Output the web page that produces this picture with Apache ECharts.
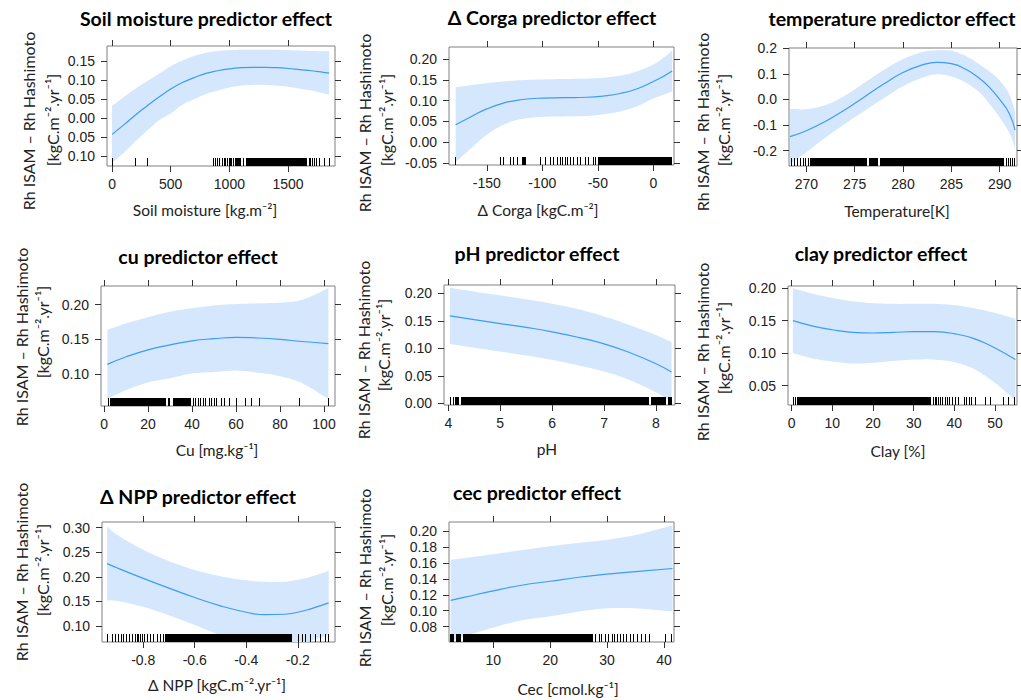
<!DOCTYPE html>
<html><head><meta charset="utf-8">
<script src="https://cdn.jsdelivr.net/npm/echarts@6/dist/echarts.min.js"></script>
<style>html,body{margin:0;padding:0;background:#fff}#c{width:1021px;height:700px}</style>
</head><body><div id="c"></div>
<script>
// ---------- data ----------
const titles = ["Soil moisture predictor effect","Δ Corga predictor effect","temperature predictor effect","cu predictor effect","pH predictor effect","clay predictor effect","Δ NPP predictor effect","cec predictor effect"];
const xNames = ["Soil moisture [kg.m⁻²]","Δ Corga [kgC.m⁻²]","Temperature[K]","Cu [mg.kg⁻¹]","pH","Clay [%]","Δ NPP [kgC.m⁻².yr⁻¹]","Cec [cmol.kg⁻¹]"];
const yName1 = "Rh ISAM – Rh Hashimoto";
const yName2 = "[kgC.m⁻².yr⁻¹]";

const soilX = [0,100,200,300,400,500,600,700,800,900,1000,1100,1200,1300,1400,1500,1600,1700,1800,1850];
const soilFit = [-0.043,-0.018,0.008,0.032,0.055,0.076,0.093,0.106,0.117,0.124,0.129,0.132,0.133,0.133,0.132,0.130,0.127,0.124,0.120,0.118];
const soilUpper = [0.032,0.055,0.077,0.097,0.116,0.136,0.151,0.163,0.171,0.176,0.178,0.179,0.179,0.179,0.179,0.178,0.177,0.176,0.175,0.175];
const soilLower = [-0.118,-0.091,-0.061,-0.033,-0.006,0.012,0.035,0.049,0.063,0.072,0.080,0.085,0.087,0.087,0.085,0.082,0.077,0.072,0.065,0.061];
const soilTicksX = [0,500,1000,1500];
const soilTicksY = [-0.10,-0.05,0,0.05,0.10,0.15];
const soilRugLines = [0,195,300,862,878,895,915,935,950,965,980,1035,1045,1120,1675,1690,1705,1720,1740,1760,1805,1845];
const soilRugSpans = [[1000,1020],[1060,1100],[1140,1660]];

const corgaX = [-178,-165,-150,-135,-120,-100,-80,-60,-45,-30,-15,0,10,17];
const corgaFit = [0.042,0.060,0.080,0.094,0.102,0.106,0.107,0.108,0.111,0.117,0.128,0.146,0.160,0.171];
const corgaUpper = [0.132,0.137,0.142,0.146,0.149,0.151,0.152,0.153,0.155,0.160,0.170,0.187,0.205,0.220];
const corgaLower = [-0.048,-0.017,0.018,0.042,0.055,0.061,0.062,0.063,0.067,0.074,0.086,0.105,0.115,0.122];
const corgaTicksX = [-150,-100,-50,0];
const corgaTicksY = [-0.05,0,0.05,0.10,0.15,0.20];
const corgaRugLines = [-178.5,-138,-135,-129,-126,-123,-102,-97.5,-93,-90,-87,-84,-82.4,-79.4,-78,-75,-72,-69,-66,-61.4,-58.4,-54,-52.4];
const corgaRugSpans = [[-118,-115],[-49.4,16.7]];

const tempX = [268.3,270,272,274,276,278,280,282,283.5,285,286.5,288,289,290,291,291.6];
const tempFit = [-0.145,-0.122,-0.085,-0.040,0.010,0.060,0.105,0.135,0.145,0.140,0.118,0.080,0.045,0.000,-0.055,-0.120];
const tempUpper = [-0.037,-0.038,-0.022,0.015,0.065,0.115,0.158,0.185,0.192,0.190,0.170,0.135,0.108,0.075,0.020,-0.048];
const tempLower = [-0.253,-0.206,-0.148,-0.095,-0.045,0.005,0.052,0.085,0.098,0.090,0.066,0.025,-0.020,-0.070,-0.130,-0.192];
const tempTicksX = [270,275,280,285,290];
const tempTicksY = [-0.2,-0.1,0,0.1,0.2];
const tempRugLines = [268.4,268.7,269.0,269.3,269.6,269.9,270.2,290.7,290.9,291.1,291.3,291.5];
const tempRugSpans = [[270.4,276.3],[276.5,277.4],[277.6,290.5]];

const cuX = [1.5,10,20,30,40,50,60,70,80,90,102];
const cuFit = [0.114,0.125,0.135,0.142,0.148,0.151,0.153,0.152,0.150,0.147,0.144];
const cuUpper = [0.164,0.173,0.182,0.190,0.195,0.199,0.201,0.202,0.203,0.207,0.224];
const cuLower = [0.064,0.077,0.088,0.094,0.101,0.103,0.105,0.102,0.097,0.087,0.064];
const cuTicksX = [0,20,40,60,80,100];
const cuTicksY = [0.10,0.15,0.20];
const cuRugLines = [1.8,40.5,41.5,42.5,43.5,45,46,47.5,48.5,50,51,53,54.5,57,60,64,67,70.5,88.5,102];
const cuRugSpans = [[2.5,28.3],[29.2,30.0],[31.2,39.5]];

const phX = [4.03,4.5,5,5.5,6,6.5,7,7.5,8,8.3];
const phFit = [0.159,0.152,0.145,0.138,0.130,0.120,0.108,0.092,0.072,0.057];
const phUpper = [0.210,0.203,0.196,0.189,0.181,0.171,0.158,0.142,0.124,0.111];
const phLower = [0.108,0.101,0.094,0.087,0.079,0.069,0.058,0.042,0.020,0.003];
const phTicksX = [4,5,6,7,8];
const phTicksY = [0,0.05,0.10,0.15,0.20];
const phRugLines = [4.04,4.09];
const phRugSpans = [[4.12,4.2],[4.24,7.87],[7.9,8.2],[8.23,8.3]];

const clayX = [0.3,5,10,15,20,25,30,35,40,45,50,55];
const clayFit = [0.150,0.142,0.136,0.132,0.131,0.132,0.133,0.133,0.130,0.122,0.108,0.090];
const clayUpper = [0.200,0.192,0.185,0.180,0.177,0.176,0.176,0.176,0.174,0.169,0.162,0.153];
const clayLower = [0.100,0.092,0.087,0.084,0.085,0.088,0.090,0.090,0.086,0.075,0.054,0.027];
const clayTicksX = [0,10,20,30,40,50];
const clayTicksY = [0.05,0.10,0.15,0.20];
const clayRugLines = [0.4,0.8,34.7,35.2,35.6,36.0,36.5,37.0,37.8,38.3,38.8,39.5,40.2,41.0,42.3,42.9,43.5,44.2,45.0,47.6,48.8,52.0,53.3,54.6];
const clayRugSpans = [[1.2,34.2]];

const nppX = [-0.94,-0.9,-0.8,-0.7,-0.6,-0.5,-0.4,-0.33,-0.25,-0.2,-0.15,-0.08];
const nppFit = [0.227,0.218,0.197,0.177,0.158,0.141,0.128,0.123,0.124,0.128,0.135,0.147];
const nppUpper = [0.302,0.285,0.255,0.232,0.214,0.201,0.193,0.190,0.190,0.194,0.200,0.212];
const nppLower = [0.152,0.151,0.139,0.122,0.102,0.081,0.063,0.056,0.058,0.062,0.070,0.082];
const nppTicksX = [-0.8,-0.6,-0.4,-0.2];
const nppTicksY = [0.10,0.15,0.20,0.25,0.30];
const nppRugLines = [-0.940,-0.923,-0.910,-0.897,-0.888,-0.878,-0.865,-0.854,-0.845,-0.832,-0.826,-0.819,-0.813,-0.806,-0.797,-0.787,-0.774,-0.761,-0.748,-0.735,-0.722,-0.200,-0.184,-0.171,-0.152,-0.133,-0.113,-0.094,-0.081];
const nppRugSpans = [[-0.716,-0.223]];

const cecX = [2.5,5,10,15,20,25,30,35,41.5];
const cecFit = [0.113,0.117,0.125,0.132,0.137,0.142,0.146,0.149,0.153];
const cecUpper = [0.164,0.166,0.171,0.176,0.181,0.185,0.189,0.195,0.207];
const cecLower = [0.062,0.068,0.079,0.088,0.093,0.099,0.103,0.103,0.099];
const cecTicksX = [10,20,30,40];
const cecTicksY = [0.08,0.10,0.12,0.14,0.16,0.18,0.20];
const cecRugLines = [27.9,28.5,29.0,29.6,30.2,30.8,31.2,31.7,32.3,32.8,33.4,34.0,34.6,35.2,36.0,36.7,37.4,40.2,41.3];
const cecRugSpans = [[2.4,3.1],[3.4,4.3],[4.6,27.6]];

// ---------- layout ----------
const f2 = v => v.toFixed(2);
const panels = [
  {x:soilX, fit:soilFit, up:soilUpper, lo:soilLower, xt:soilTicksX, yt:soilTicksY, rl:soilRugLines, rs:soilRugSpans,
   box:[107,46,228,120], xr:[-43,1900], yr:[-0.126,0.189], yf:v=>Math.abs(v).toFixed(2),
   title:[206,18], xn:[205,210], yn:[28,121,52,120]},
  {x:corgaX, fit:corgaFit, up:corgaUpper, lo:corgaLower, xt:corgaTicksX, yt:corgaTicksY, rl:corgaRugLines, rs:corgaRugSpans,
   box:[449,47,225,118], xr:[-184,18.6], yr:[-0.055,0.229], yf:f2,
   title:[552,17], xn:[538,210], yn:[364,123,386,120]},
  {x:tempX, fit:tempFit, up:tempUpper, lo:tempLower, xt:tempTicksX, yt:tempTicksY, rl:tempRugLines, rs:tempRugSpans,
   box:[789,48,228,118], xr:[268.2,291.8], yr:[-0.26,0.201], yf:v=>v.toFixed(1),
   title:[892,18], xn:[897,211], yn:[702,122,723,120]},
  {x:cuX, fit:cuFit, up:cuUpper, lo:cuLower, xt:cuTicksX, yt:cuTicksY, rl:cuRugLines, rs:cuRugSpans,
   box:[101,286,234,120], xr:[-1.4,105], yr:[0.054,0.227], yf:f2,
   title:[198,256], xn:[217,450], yn:[21,337,42,332]},
  {x:phX, fit:phFit, up:phUpper, lo:phLower, xt:phTicksX, yt:phTicksY, rl:phRugLines, rs:phRugSpans,
   box:[444,285,231,120], xr:[3.917,8.366], yr:[-0.003,0.215], yf:f2,
   title:[537,253], xn:[547,449], yn:[363,350,383,345]},
  {x:clayX, fit:clayFit, up:clayUpper, lo:clayLower, xt:clayTicksX, yt:clayTicksY, rl:clayRugLines, rs:clayRugSpans,
   box:[788,286,229,119], xr:[-0.9,55.4], yr:[0.020,0.2035], yf:f2,
   title:[881,253], xn:[898,451], yn:[702,352,723,348]},
  {x:nppX, fit:nppFit, up:nppUpper, lo:nppLower, xt:nppTicksX, yt:nppTicksY, rl:nppRugLines, rs:nppRugSpans,
   box:[102,522,233,120], xr:[-0.960,-0.0556], yr:[0.0675,0.3116], yf:f2,
   title:[198,496], xn:[217,685], yn:[21,572,42,570]},
  {x:cecX, fit:cecFit, up:cecUpper, lo:cecLower, xt:cecTicksX, yt:cecTicksY, rl:cecRugLines, rs:cecRugSpans,
   box:[449,522,225,120], xr:[2.21,41.76], yr:[0.0608,0.2113], yf:f2,
   title:[537,492], xn:[568,689], yn:[364,578,386,580]}
];

const BAND = '#d4e7fd', LINE = '#3d9cf5', TICK = '#333', LABEL = '#222';
const LABEL_FONT = 'Liberation Sans, Arial, sans-serif';
const TEXT_FONT = 'Lato, "Open Sans", sans-serif';
const RUG_H = 8;

// Catmull-Rom sampling of pixel points (rendering only)
function spline(pts, n) {
  const out = [];
  for (let i = 0; i < pts.length - 1; i++) {
    const p0 = pts[Math.max(0, i - 1)], p1 = pts[i], p2 = pts[i + 1], p3 = pts[Math.min(pts.length - 1, i + 2)];
    for (let s = 0; s < n; s++) {
      const t = s / n, t2 = t * t, t3 = t2 * t;
      const f = (a, b, c, d) => 0.5 * (2 * b + (-a + c) * t + (2 * a - 5 * b + 4 * c - d) * t2 + (-a + 3 * b - 3 * c + d) * t3);
      out.push([f(p0[0], p1[0], p2[0], p3[0]), f(p0[1], p1[1], p2[1], p3[1])]);
    }
  }
  out.push(pts[pts.length - 1]);
  return out;
}

const grid = [], xAxis = [], yAxis = [], series = [], graphic = [];
panels.forEach((p, i) => {
  grid.push({left:p.box[0], top:p.box[1], width:p.box[2], height:p.box[3], show:true,
    borderColor:'#808080', borderWidth:1, backgroundColor:'transparent', outerBoundsMode:'none', containLabel:false});
  ['bottom','top'].forEach(pos => xAxis.push({
    type:'value', gridIndex:i, position:pos, min:p.xr[0], max:p.xr[1],
    axisLine:{show:false, onZero:false}, splitLine:{show:false},
    axisTick:{show:true, length:6, customValues:p.xt, lineStyle:{color:TICK}},
    axisLabel: pos === 'bottom'
      ? {show:true, customValues:p.xt, margin:11, fontSize:14, color:LABEL, fontFamily:LABEL_FONT, formatter:v=>String(v)}
      : {show:false}
  }));
  ['left','right'].forEach(pos => yAxis.push({
    type:'value', gridIndex:i, position:pos, min:p.yr[0], max:p.yr[1],
    axisLine:{show:false, onZero:false}, splitLine:{show:false},
    axisTick:{show:true, length:6, customValues:p.yt, lineStyle:{color:TICK}},
    axisLabel: pos === 'left'
      ? {show:true, customValues:p.yt, margin:12, fontSize:14, color:LABEL, fontFamily:LABEL_FONT, formatter:p.yf}
      : {show:false}
  }));
  const xa = 2*i, ya = 2*i;
  // confidence band
  series.push({type:'custom', xAxisIndex:xa, yAxisIndex:ya, silent:true, z:1,
    encode:{x:0, y:1}, data:[[p.x[0], p.fit[0]]],
    renderItem:(params, api) => {
      const cs = params.coordSys;
      const up = spline(p.x.map((v,k)=>api.coord([v, p.up[k]])), 10);
      const lo = spline(p.x.map((v,k)=>api.coord([v, p.lo[k]])), 10).reverse();
      const pts = up.concat(lo).map(q => [
        Math.min(cs.x + cs.width, Math.max(cs.x, q[0])),
        Math.min(cs.y + cs.height, Math.max(cs.y, q[1]))]);
      return {type:'polygon', shape:{points:pts}, style:{fill:BAND}};
    }});
  // rug
  const rugData = p.rs.map(s=>[s[0], s[1], p.yr[0]]).concat(p.rl.map(v=>[v, v, p.yr[0]]));
  series.push({type:'custom', xAxisIndex:xa, yAxisIndex:ya, silent:true, z:2,
    encode:{x:[0,1], y:2}, data:rugData,
    renderItem:(params, api) => {
      const cs = params.coordSys;
      const a = api.coord([api.value(0), api.value(2)]);
      const b = api.coord([api.value(1), api.value(2)]);
      const x0 = Math.round(a[0]);
      const w = Math.max(1, Math.round(b[0]) - x0);
      const bottom = cs.y + cs.height;
      return {type:'rect', shape:{x:x0, y:bottom - RUG_H, width:w, height:RUG_H}, style:{fill:'#000'}};
    }});
  // fitted effect line
  series.push({type:'line', xAxisIndex:xa, yAxisIndex:ya, smooth:true, symbol:'none', silent:true, z:3,
    lineStyle:{color:LINE, width:1.2}, data:p.x.map((v,k)=>[v, p.fit[k]])});

  graphic.push({type:'text', x:p.title[0], y:p.title[1], silent:true,
    style:{text:titles[i], fontFamily:TEXT_FONT, fontWeight:'bold', fontSize:19.5, fill:'#000', align:'center', verticalAlign:'middle'}});
  graphic.push({type:'text', x:p.xn[0], y:p.xn[1], silent:true,
    style:{text:xNames[i], fontFamily:TEXT_FONT, fontSize:15.5, fill:'#222', align:'center', verticalAlign:'middle'}});
  graphic.push({type:'text', x:p.yn[0], y:p.yn[1], rotation:Math.PI/2, silent:true,
    style:{text:yName1, fontFamily:TEXT_FONT, fontSize:16, fill:'#222', align:'center', verticalAlign:'middle'}});
  graphic.push({type:'text', x:p.yn[2], y:p.yn[3], rotation:Math.PI/2, silent:true,
    style:{text:yName2, fontFamily:TEXT_FONT, fontSize:16, fill:'#222', align:'center', verticalAlign:'middle'}});
});

const chart = echarts.init(document.getElementById('c'), null, {renderer:'svg'});
chart.setOption({animation:false, backgroundColor:'#fff', grid, xAxis, yAxis, series, graphic});
</script></body></html>
